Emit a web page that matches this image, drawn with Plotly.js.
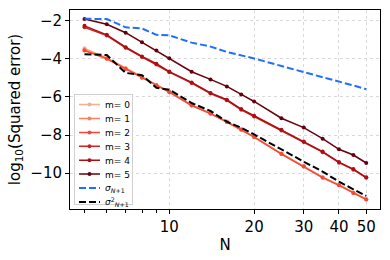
<!DOCTYPE html>
<html>
<head>
<meta charset="utf-8">
<script src="https://cdn.plot.ly/plotly-3.0.1.min.js"></script>
<style>
html,body{margin:0;padding:0;background:#fff;}
#chart{width:390px;height:260px;}
</style>
</head>
<body>
<div id="chart"></div>
<script>
// ---- data ----
var N = [5, 6, 7, 8, 9, 10, 12, 14, 16, 18, 20, 25, 30, 35, 40, 45, 50];

var m0 = [-3.45, -3.95, -4.48, -4.95, -5.36, -5.72, -6.42, -6.85, -7.29, -7.69, -8.08, -8.97, -9.62, -10.21, -10.61, -11.02, -11.36];
var m1 = [-3.52, -3.98, -4.51, -4.98, -5.39, -5.74, -6.44, -6.87, -7.31, -7.71, -8.10, -8.99, -9.64, -10.23, -10.63, -11.04, -11.38];
var m2 = [-3.57, -4.00, -4.53, -5.00, -5.40, -5.75, -6.45, -6.88, -7.32, -7.72, -8.11, -9.00, -9.65, -10.24, -10.64, -11.05, -11.39];
var m3 = [-2.35, -2.78, -3.42, -3.91, -4.30, -4.70, -5.27, -5.82, -6.18, -6.68, -7.03, -7.76, -8.37, -8.90, -9.45, -9.82, -10.25];
var m4 = [-2.27, -2.74, -3.39, -3.88, -4.26, -4.67, -5.24, -5.79, -6.15, -6.64, -6.99, -7.73, -8.34, -8.87, -9.42, -9.79, -10.22];
var m5 = [-1.91, -2.19, -2.63, -3.13, -3.57, -3.97, -4.68, -5.08, -5.45, -5.87, -6.24, -7.12, -7.61, -8.19, -8.75, -9.05, -9.47];

var sigma  = [-1.90, -1.91, -2.35, -2.41, -2.74, -2.77, -3.15, -3.36, -3.64, -3.80, -3.98, -4.38, -4.69, -4.95, -5.21, -5.40, -5.60];
var sigma2 = [-3.76, -3.80, -4.74, -4.86, -5.52, -5.62, -6.32, -6.74, -7.30, -7.62, -7.97, -8.78, -9.40, -9.92, -10.45, -10.85, -11.20];

var mSeries = [m0, m1, m2, m3, m4, m5];
var mNames = ['m= 0', 'm= 1', 'm= 2', 'm= 3', 'm= 4', 'm= 5'];
var mColors = ['#fcab8e', '#fc7f5f', '#f34a36', '#d42020', '#a91016', '#67000d'];

var xTicks = [10, 20, 30, 40, 50];
var xTickText = ['10', '20', '30', '40', '50'];
var xMinor = [5, 6, 7, 8, 9];
var yTicks = [-10, -8, -6, -4, -2];
var yTickText = ['\u221210', '\u22128', '\u22126', '\u22124', '\u22122'];

// ---- traces ----
var traces = [];
for (var i = 0; i < mSeries.length; i++) {
  traces.push({
    x: N, y: mSeries[i], name: mNames[i], type: 'scatter', mode: 'lines+markers',
    line: {color: mColors[i], width: 1.5},
    marker: {color: mColors[i], size: 4}
  });
}
traces.push({
  x: N, y: sigma, name: '<i>\u03c3</i><sub><i>N</i>+1</sub>', type: 'scatter', mode: 'lines',
  line: {color: '#1f6fff', width: 2, dash: '7px,3px'}
});
traces.push({
  x: N, y: sigma2, name: '<i>\u03c3</i><sup>2</sup><sub><i>N</i>+1</sub>', type: 'scatter', mode: 'lines',
  line: {color: '#000000', width: 2, dash: '7px,3px'}
});

var font = 'DejaVu Sans, sans-serif';
var layout = {
  width: 390, height: 260,
  margin: {l: 70, r: 10, t: 10, b: 51, autoexpand: false},
  paper_bgcolor: '#ffffff', plot_bgcolor: '#ffffff',
  font: {family: font, color: '#000', size: 15},
  showlegend: true,
  legend: {
    x: 0.013, y: 0.58, xanchor: 'left', yanchor: 'top',
    bgcolor: 'rgba(255,255,255,0.8)', bordercolor: '#d0d0d0', borderwidth: 1,
    font: {family: font, size: 9, color: '#000'}
  },
  xaxis: {
    type: 'log', range: [0.6476, 1.7477], automargin: false,
    tickmode: 'array', tickvals: xTicks, ticktext: xTickText,
    ticks: 'outside', ticklen: 4, tickwidth: 1, tickcolor: '#000',
    showgrid: true, gridcolor: '#d9d9d9', griddash: 'dot', gridwidth: 1,
    minor: {tickmode: 'array', tickvals: xMinor, ticks: 'outside', ticklen: 2.5, tickcolor: '#000', showgrid: false},
    showline: true, linecolor: '#000', linewidth: 1, mirror: true,
    zeroline: false,
    tickfont: {family: font, size: 15},
    title: {text: 'N', font: {family: font, size: 15}, standoff: 4}
  },
  yaxis: {
    range: [-11.884, -1.438], automargin: false,
    tickmode: 'array', tickvals: yTicks, ticktext: yTickText,
    ticks: 'outside', ticklen: 4, tickwidth: 1, tickcolor: '#000',
    showgrid: true, gridcolor: '#d9d9d9', griddash: 'dot', gridwidth: 1,
    showline: true, linecolor: '#000', linewidth: 1, mirror: true,
    zeroline: false,
    tickfont: {family: font, size: 15},
    title: {text: 'log<sub>10</sub>(Squared error)', font: {family: font, size: 15}, standoff: 6}
  }
};

Plotly.newPlot('chart', traces, layout, {staticPlot: true}).then(function (gd) {
  // compact legend rows to match the reference spacing
  try {
    var items = gd.querySelectorAll('.legend .traces');
    if (items.length > 1) {
      var parseXY = function (el) {
        var t = el.getAttribute('transform') || '';
        var m = t.match(/translate\(\s*([-\d.]+)[ ,]+([-\d.]+)/);
        return m ? [parseFloat(m[1]), parseFloat(m[2])] : [0, 0];
      };
      var first = parseXY(items[0]);
      var step = 13.9;
      items.forEach(function (g, k) {
        var p = parseXY(g);
        g.setAttribute('transform', 'translate(' + p[0] + ',' + (first[1] - 4.5 + k * step) + ')');
        g.querySelectorAll('.legendlines path').forEach(function (pth) { pth.setAttribute('d', 'M4,0h21'); });
        g.querySelectorAll('.legendpoints path').forEach(function (pt) { pt.setAttribute('transform', 'translate(14.5,0)'); });
        var txt = g.querySelector('text.legendtext');
        if (txt) { txt.setAttribute('x', 30); }
        g.querySelectorAll('text.legendtext tspan[x]').forEach(function (ts) { ts.setAttribute('x', 30); });
      });
      var bg = gd.querySelector('.legend rect.bg');
      if (bg) {
        bg.setAttribute('height', 110);
        bg.setAttribute('width', 58);
      }
    }
  } catch (e) {}
});
</script>
</body>
</html>
